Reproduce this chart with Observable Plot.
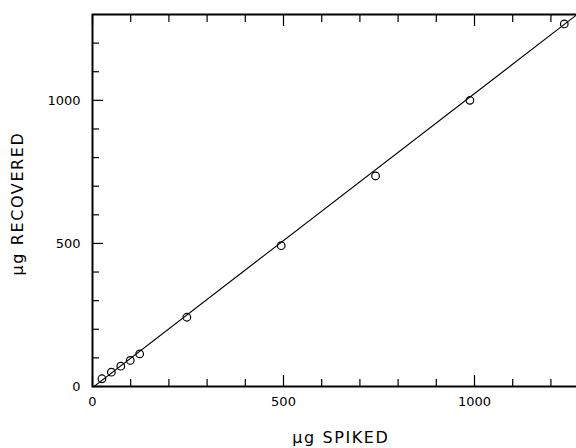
<!DOCTYPE html>
<html>
<head>
<meta charset="utf-8">
<script src="https://cdn.jsdelivr.net/npm/d3@7"></script>
<script src="https://cdn.jsdelivr.net/npm/@observablehq/plot@0.6"></script>
<style>
  html, body { margin: 0; padding: 0; background: white; overflow: hidden; }
  #chart svg { overflow: hidden; }
  .title text { letter-spacing: 1.6px; }
</style>
</head>
<body>
<div id="chart"></div>
<script>
// Data
const spiked    = [24.7, 49.4, 74.1, 98.8, 123.5, 247, 494, 741, 988, 1235];
const recovered = [27, 50, 71, 91, 114, 242, 492, 736, 1000, 1267];
const fitX = [0, 1300];
const fitY = [-4, 1332];
const majorTicks = [0, 500, 1000];
const minorTicks = [100, 200, 300, 400, 600, 700, 800, 900, 1100, 1200];
const xTitle = "µg SPIKED";
const yTitle = "µg RECOVERED";

const points = spiked.map((x, i) => ({x, y: recovered[i]}));
const fit = fitX.map((x, i) => ({x, y: fitY[i]}));

const font = "'DejaVu Sans', Verdana, sans-serif";

const chart = Plot.plot({
  width: 576,
  height: 448,
  marginLeft: 92,
  marginRight: -12.6,
  marginTop: 14,
  marginBottom: 62,
  style: {fontFamily: font, fontSize: "13px", color: "black", background: "white"},
  x: {domain: [0, 1300]},
  y: {domain: [0, 1300]},
  marks: [
    // inward ticks, bottom & top
    Plot.axisX({anchor: "bottom", ticks: majorTicks, tickSize: -11, fill: "none", label: null, strokeWidth: 1.2}),
    Plot.axisX({anchor: "bottom", ticks: minorTicks, tickSize: -7, fill: "none", label: null, strokeWidth: 1.2}),
    Plot.axisX({anchor: "top", ticks: majorTicks, tickSize: -11, fill: "none", label: null, strokeWidth: 1.2}),
    Plot.axisX({anchor: "top", ticks: minorTicks, tickSize: -7, fill: "none", label: null, strokeWidth: 1.2}),
    // inward ticks, left
    Plot.axisY({anchor: "left", ticks: majorTicks, tickSize: -11, fill: "none", label: null, strokeWidth: 1.2}),
    Plot.axisY({anchor: "left", ticks: minorTicks, tickSize: -7, fill: "none", label: null, strokeWidth: 1.2}),
    // tick labels
    Plot.axisX({anchor: "bottom", ticks: majorTicks, tickSize: 0, tickPadding: 10, tickFormat: d => String(d), label: null, fontSize: 13}),
    Plot.axisY({anchor: "left", ticks: majorTicks, tickSize: 0, tickPadding: 12, tickFormat: d => String(d), label: null, fontSize: 13}),
    // axis titles
    Plot.text([xTitle], {frameAnchor: "bottom", text: d => d, dy: 51, fontSize: 16, textAnchor: "middle", lineAnchor: "middle", fill: "black", className: "title"}),
    Plot.text([yTitle], {frameAnchor: "left", text: d => d, dx: -75, dy: 3, rotate: -90, fontSize: 16, textAnchor: "middle", lineAnchor: "middle", fill: "black", className: "title"}),
    // fitted line
    Plot.line(fit, {x: "x", y: "y", stroke: "black", strokeWidth: 1.1, clip: true}),
    // data points
    Plot.dot(points, {x: "x", y: "y", r: 3.8, stroke: "black", strokeWidth: 1.2, fill: "none"}),
    // frame
    Plot.frame({stroke: "black", strokeWidth: 2})
  ]
});
document.getElementById("chart").appendChild(chart);
</script>
</body>
</html>
